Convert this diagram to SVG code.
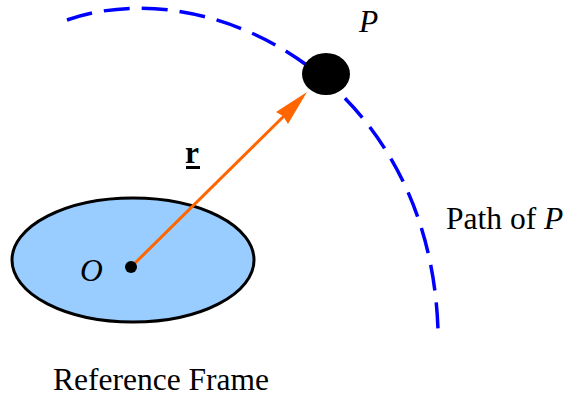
<svg xmlns="http://www.w3.org/2000/svg" width="568" height="400" viewBox="0 0 568 400">
<style>
text{font-family:"Liberation Serif","Times New Roman",serif;font-size:31.5px;fill:#000}
.it{font-style:italic}
</style>
<rect width="568" height="400" fill="#fff"/>
<g id="path">
<path d="M67,20 C210,-30 430,80 438,330" fill="none" stroke="#0000ff" stroke-width="3.5" stroke-dasharray="26,12"/>
</g>
<g id="frame">
<ellipse cx="133" cy="260" rx="121" ry="62" fill="#99ccff" stroke="#000" stroke-width="3"/>
</g>
<g id="connectors">
<line x1="131" y1="267" x2="285" y2="115" stroke="#ff6600" stroke-width="3"/>
<path d="M307,92 L276,112 L283,116 L288,124 z" fill="#ff6600"/>
</g>
<g id="origin">
<circle cx="131" cy="267" r="6" fill="#000"/>
<text class="it" x="80" y="281">O</text>
</g>
<g id="particle">
<ellipse cx="326" cy="74" rx="24" ry="21" fill="#000"/>
<text class="it" x="359" y="32">P</text>
</g>
<g id="labels">
<text x="185" y="163" font-weight="bold">r</text>
<rect x="186" y="166" width="14" height="3" fill="#000"/>
<text x="446" y="229">Path of <tspan class="it">P</tspan></text>
<text x="53" y="390">Reference Frame</text>
</g>
</svg>
